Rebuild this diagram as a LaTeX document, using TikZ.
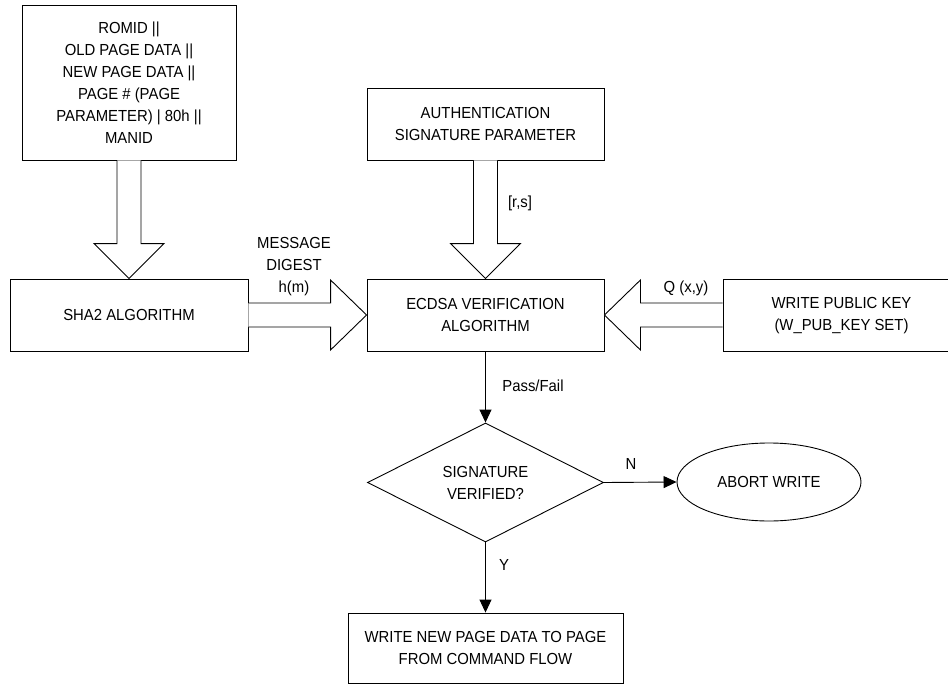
\documentclass[tikz,border=0pt]{standalone}
\usepackage{fontspec}
\setmainfont[FakeStretch=0.93]{Liberation Sans}
\usetikzlibrary{shapes.geometric,arrows.meta,calc}

\tikzset{
  txt/.style={font=\fontsize{16}{22}\selectfont, align=center},
  box/.style={txt, draw, line width=0.9pt, inner sep=0pt},
  decide/.style={txt, draw, line width=0.9pt, diamond, aspect=2, inner sep=0pt},
  term/.style={txt, draw, line width=0.9pt, ellipse, inner sep=0pt},
  hollow/.style={draw, line width=0.9pt, fill=white, line join=miter},
  flow/.style={draw, line width=0.9pt, -{Triangle[length=13pt,width=12pt]}},
  lbl/.style={txt}
}

\begin{document}
\begin{tikzpicture}[x=1pt, y=-1pt]
  \useasboundingbox (0,0) rectangle (948,685);
  \clip (0,0) rectangle (948,685);

  % blocks
  \node[box, minimum width=214, minimum height=155] (src) at (129,82.5)
    {ROMID ||\\OLD PAGE DATA ||\\NEW PAGE DATA ||\\PAGE \# (PAGE\\PARAMETER) | 80h ||\\MANID};
  \node[box, minimum width=238, minimum height=72] (sha) at (129,315) {SHA2 ALGORITHM};
  \node[box, minimum width=237, minimum height=72] (auth) at (485.5,124)
    {AUTHENTICATION\\SIGNATURE PARAMETER};
  \node[box, minimum width=237, minimum height=72] (ecdsa) at (485.5,315)
    {ECDSA VERIFICATION\\ALGORITHM};
  % this box runs on past the right edge of the sheet
  \node[box, align=left, minimum width=277, minimum height=72] (key) at (861.5,315)
    {\begin{tabular}{@{}c@{}}WRITE PUBLIC KEY\\(W\_PUB\_KEY SET)\end{tabular}\hspace*{40pt}};
  \node[decide, minimum width=236, minimum height=119] (dec) at (485.5,482.5)
    {SIGNATURE\\VERIFIED?};
  \node[term, minimum width=184, minimum height=78] (abort) at (769,482) {ABORT WRITE};
  \node[box, minimum width=275, minimum height=70] (wr) at (485.5,648)
    {WRITE NEW PAGE DATA TO PAGE\\FROM COMMAND FLOW};

  % hollow block arrows
  \path[hollow] ($(src.south)+(-12,0)$) -- ($(sha.north)+(-12,-35)$)
    -- ($(sha.north)+(-35,-35)$) -- (sha.north) -- ($(sha.north)+(35,-35)$)
    -- ($(sha.north)+(12,-35)$) -- ($(src.south)+(12,0)$);
  \path[hollow] ($(auth.south)+(-12,0)$) -- ($(ecdsa.north)+(-12,-35)$)
    -- ($(ecdsa.north)+(-35,-35)$) -- (ecdsa.north) -- ($(ecdsa.north)+(35,-35)$)
    -- ($(ecdsa.north)+(12,-35)$) -- ($(auth.south)+(12,0)$);
  \path[hollow] ($(sha.east)+(0,-12)$) -- ($(ecdsa.west)+(-36,-12)$)
    -- ($(ecdsa.west)+(-36,-35)$) -- (ecdsa.west) -- ($(ecdsa.west)+(-36,35)$)
    -- ($(ecdsa.west)+(-36,12)$) -- ($(sha.east)+(0,12)$);
  \path[hollow] ($(key.west)+(0,-12)$) -- ($(ecdsa.east)+(36,-12)$)
    -- ($(ecdsa.east)+(36,-35)$) -- (ecdsa.east) -- ($(ecdsa.east)+(36,35)$)
    -- ($(ecdsa.east)+(36,12)$) -- ($(key.west)+(0,12)$);

  % decision flow
  \draw[flow] (ecdsa.south) -- (dec.north);
  \draw[flow] (dec.east) -- (abort.west);
  \draw[flow] (dec.south) -- (wr.north);

  % labels
  \node[lbl] (digest) at (294,267) {MESSAGE\\DIGEST\\h(m)};
  \node[lbl] (rs) at (520,203) {[r,s]};
  \node[lbl] (q) at (686,288) {Q (x,y)};
  \node[lbl] (pf) at (533,386) {Pass/Fail};
  \node[lbl] (no) at (631,464) {N};
  \node[lbl] (yes) at (504,565) {Y};
\end{tikzpicture}
\end{document}
